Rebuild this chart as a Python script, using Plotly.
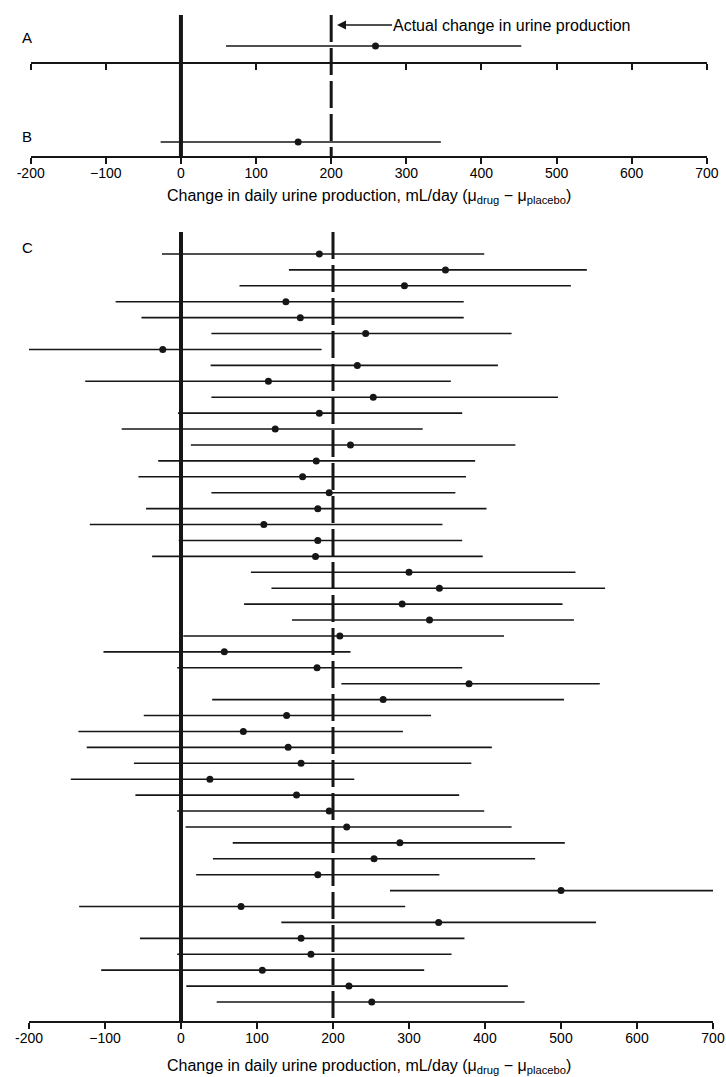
import plotly.graph_objects as go

W, H = 726, 1077

# ---------------- data ----------------
top_labels = ["A", "B"]
top_est = [259, 156]
top_lo = [60, -27]
top_hi = [453, 346]

c_est = [182, 348, 294, 138, 157, 243, -24, 232, 115, 253,
         182, 124, 223, 178, 160, 195, 180, 109, 180, 177,
         300, 340, 291, 327, 209, 57, 179, 379, 266, 139,
         82, 141, 158, 38, 152, 195, 218, 288, 254, 180,
         500, 79, 339, 158, 171, 107, 221, 251]
c_lo = [-25, 142, 77, -86, -52, 40, -227, 39, -126, 40,
        -4, -78, 13, -30, -56, 40, -46, -120, -3, -38,
        92, 119, 83, 146, 3, -102, -5, 211, 41, -49,
        -135, -124, -62, -145, -60, -5, 6, 68, 42, 20,
        275, -134, 132, -54, -5, -105, 7, 47]
c_hi = [399, 534, 513, 372, 372, 435, 185, 417, 355, 496,
        370, 318, 440, 387, 375, 361, 402, 344, 370, 397,
        519, 558, 502, 517, 425, 223, 370, 551, 504, 329,
        292, 409, 382, 228, 366, 399, 435, 505, 466, 340,
        718, 295, 546, 373, 356, 320, 430, 452]

tick_vals = [-200, -100, 0, 100, 200, 300, 400, 500, 600, 700]
tick_text = ["-200", "\u2212100", "0", "100", "200", "300", "400", "500", "600", "700"]
x_range = [-200, 700]
ref_lines = [0, 200]   # no effect / actual change

axis_title = "Change in daily urine production, mL/day (\u03bc<sub>drug</sub> \u2212 \u03bc<sub>placebo</sub>)"
arrow_text = "Actual change in urine production"

FONT = "Liberation Sans, Arial, Helvetica, sans-serif"
INK = "#161616"


def py(p):
    return 1 - p / H


fig = go.Figure()

# A and B
for i, (lab, e, lo, hi) in enumerate(zip(top_labels, top_est, top_lo, top_hi)):
    suffix = "" if i == 0 else "2"
    fig.add_trace(go.Scatter(
        x=[e], y=[0], mode="markers",
        marker=dict(size=7, color=INK),
        error_x=dict(type="data", symmetric=False, array=[hi - e], arrayminus=[e - lo],
                     width=0, thickness=1.7, color=INK),
        xaxis="x" + suffix, yaxis="y" + suffix, showlegend=False, hoverinfo="skip"))

# C
rows = list(range(1, len(c_est) + 1))
fig.add_trace(go.Scatter(
    x=c_est, y=rows, mode="markers",
    marker=dict(size=7, color=INK),
    error_x=dict(type="data", symmetric=False,
                 array=[h - e for h, e in zip(c_hi, c_est)],
                 arrayminus=[e - l for e, l in zip(c_est, c_lo)],
                 width=0, thickness=1.6, color=INK),
    xaxis="x3", yaxis="y3", showlegend=False, hoverinfo="skip"))

xcommon = dict(range=x_range, showline=True, linewidth=2, linecolor=INK,
               ticks="outside", ticklen=6, tickwidth=2, tickcolor=INK,
               tickmode="array", tickvals=tick_vals, ticktext=tick_text,
               showgrid=False, zeroline=False, automargin=False,
               ticklabelstandoff=-3,
               tickfont=dict(family=FONT, size=14, color="black"))
top_dom = [30.7 / W, 706.8 / W]
bot_dom = [29 / W, 713 / W]

ycommon = dict(showgrid=False, zeroline=False, showticklabels=False, showline=False,
               ticks="", automargin=False)

fig.update_layout(
    width=W, height=H,
    margin=dict(l=0, r=0, t=0, b=0, autoexpand=False),
    paper_bgcolor="white", plot_bgcolor="white",
    font=dict(family=FONT, color="black"),
    xaxis=dict(xcommon, domain=top_dom, anchor="y", showticklabels=False),
    xaxis2=dict(xcommon, domain=top_dom, anchor="y2"),
    xaxis3=dict(xcommon, domain=bot_dom, anchor="y3"),
    yaxis=dict(ycommon, domain=[py(62), py(15)], range=[-0.3404, 0.6596]),
    yaxis2=dict(ycommon, domain=[py(156), py(100)], range=[-0.25, 0.75]),
    yaxis3=dict(ycommon, domain=[py(1021), py(232)], range=[49.194, -0.382]),
)

# reference lines
shapes = []
for xref, ytop, ybot in [("x2", 15, 156), ("x3", 232, 1021)]:
    shapes.append(dict(type="line", xref=xref, yref="paper", x0=ref_lines[0], x1=ref_lines[0],
                       y0=py(ytop), y1=py(ybot), line=dict(color=INK, width=4), layer="above"))
    shapes.append(dict(type="line", xref=xref, yref="paper", x0=ref_lines[1], x1=ref_lines[1],
                       y0=py(ytop), y1=py(ybot), line=dict(color=INK, width=3, dash="27px,6px"),
                       layer="above"))
fig.update_layout(shapes=shapes)

ann = []
for lab, yp in [("A", 38), ("B", 136), ("C", 247)]:
    ann.append(dict(text=lab, xref="paper", yref="paper", x=27 / W, y=py(yp),
                    xanchor="center", yanchor="middle", showarrow=False,
                    font=dict(family=FONT, size=15, color="black")))
for yp in [197, 1066]:
    ann.append(dict(text=axis_title, xref="paper", yref="paper", x=369 / W, y=py(yp),
                    xanchor="center", yanchor="middle", showarrow=False,
                    font=dict(family=FONT, size=16, color="black")))
# label with arrow pointing at the dashed "actual change" line
ann.append(dict(text=arrow_text, xref="paper", yref="paper", x=337 / W, y=py(25),
                xanchor="left", yanchor="middle", showarrow=True, ax=55, ay=0,
                arrowhead=2, arrowsize=1.2, arrowwidth=1.5, arrowcolor=INK, standoff=0,
                borderpad=0, font=dict(family=FONT, size=16, color="black")))
fig.update_layout(annotations=ann)

fig.write_html("out.html")
